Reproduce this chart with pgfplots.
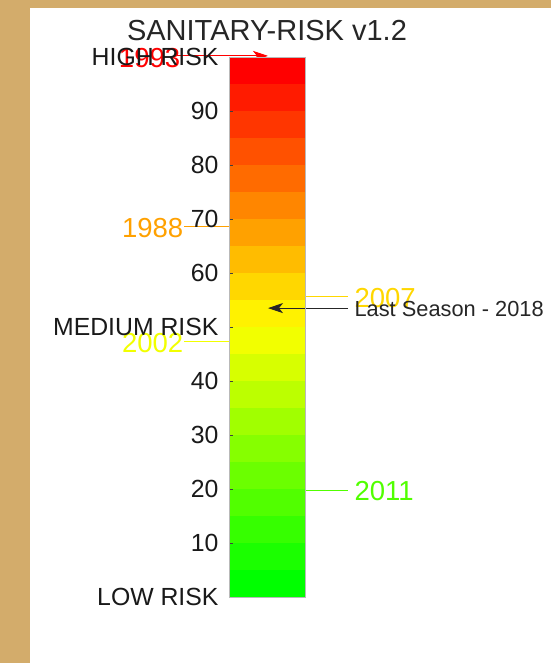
\documentclass[border=0pt]{standalone}
\usepackage{fontspec}
\setmainfont{Liberation Sans}
\usepackage{pgfplots}
\pgfplotsset{compat=1.18}
\usetikzlibrary{arrows.meta}
\definecolor{tanbg}{RGB}{211,172,107}
\definecolor{segA}{RGB}{0,255,0}
\definecolor{segB}{RGB}{27,255,0}
\definecolor{segC}{RGB}{54,255,0}
\definecolor{segD}{RGB}{81,255,0}
\definecolor{segE}{RGB}{107,255,0}
\definecolor{segF}{RGB}{134,255,0}
\definecolor{segG}{RGB}{161,255,0}
\definecolor{segH}{RGB}{188,255,0}
\definecolor{segI}{RGB}{215,255,0}
\definecolor{segJ}{RGB}{242,255,0}
\definecolor{segK}{RGB}{255,242,0}
\definecolor{segL}{RGB}{255,215,0}
\definecolor{segM}{RGB}{255,188,0}
\definecolor{segN}{RGB}{255,161,0}
\definecolor{segO}{RGB}{255,134,0}
\definecolor{segP}{RGB}{255,107,0}
\definecolor{segQ}{RGB}{255,81,0}
\definecolor{segR}{RGB}{255,54,0}
\definecolor{segS}{RGB}{255,27,0}
\definecolor{segT}{RGB}{255,0,0}
\newcommand\tlf{\fontsize{24.8bp}{29bp}\selectfont}
\newcommand\yrf{\fontsize{27.5bp}{32bp}\selectfont}
\newcommand\ttf{\fontsize{29bp}{33bp}\selectfont}
\newcommand\lsf{\fontsize{21.8bp}{26bp}\selectfont}
\begin{document}
\begin{tikzpicture}
\fill[tanbg] (0,0) rectangle (551bp,663bp);
\fill[white] (30bp,0) rectangle (551bp,655bp);
\begin{axis}[
  at={(229bp,66bp)}, anchor=south west,
  scale only axis, width=76bp, height=540bp,
  xmin=0, xmax=1, ymin=0, ymax=100,
  xtick=\empty,
  ytick={0,10,...,100},
  yticklabels={LOW RISK,10,20,30,40,MEDIUM RISK,60,70,80,90,HIGH RISK},
  ytick pos=left, tick align=inside,
  major tick length=4bp,
  tick style={black!75, line width=0.6bp},
  axis line style={gray!55, line width=0.8bp},
  yticklabel style={font=\tlf, text=black!90, xshift=-7bp},
  /pgf/number format/assume math mode=true,
  clip=false,
  axis on top,
]
\addplot[draw=none, fill=segA] coordinates {(0,0) (1,0) (1,5) (0,5)} -- cycle;
\addplot[draw=none, fill=segB] coordinates {(0,5) (1,5) (1,10) (0,10)} -- cycle;
\addplot[draw=none, fill=segC] coordinates {(0,10) (1,10) (1,15) (0,15)} -- cycle;
\addplot[draw=none, fill=segD] coordinates {(0,15) (1,15) (1,20) (0,20)} -- cycle;
\addplot[draw=none, fill=segE] coordinates {(0,20) (1,20) (1,25) (0,25)} -- cycle;
\addplot[draw=none, fill=segF] coordinates {(0,25) (1,25) (1,30) (0,30)} -- cycle;
\addplot[draw=none, fill=segG] coordinates {(0,30) (1,30) (1,35) (0,35)} -- cycle;
\addplot[draw=none, fill=segH] coordinates {(0,35) (1,35) (1,40) (0,40)} -- cycle;
\addplot[draw=none, fill=segI] coordinates {(0,40) (1,40) (1,45) (0,45)} -- cycle;
\addplot[draw=none, fill=segJ] coordinates {(0,45) (1,45) (1,50) (0,50)} -- cycle;
\addplot[draw=none, fill=segK] coordinates {(0,50) (1,50) (1,55) (0,55)} -- cycle;
\addplot[draw=none, fill=segL] coordinates {(0,55) (1,55) (1,60) (0,60)} -- cycle;
\addplot[draw=none, fill=segM] coordinates {(0,60) (1,60) (1,65) (0,65)} -- cycle;
\addplot[draw=none, fill=segN] coordinates {(0,65) (1,65) (1,70) (0,70)} -- cycle;
\addplot[draw=none, fill=segO] coordinates {(0,70) (1,70) (1,75) (0,75)} -- cycle;
\addplot[draw=none, fill=segP] coordinates {(0,75) (1,75) (1,80) (0,80)} -- cycle;
\addplot[draw=none, fill=segQ] coordinates {(0,80) (1,80) (1,85) (0,85)} -- cycle;
\addplot[draw=none, fill=segR] coordinates {(0,85) (1,85) (1,90) (0,90)} -- cycle;
\addplot[draw=none, fill=segS] coordinates {(0,90) (1,90) (1,95) (0,95)} -- cycle;
\addplot[draw=none, fill=segT] coordinates {(0,95) (1,95) (1,100) (0,100)} -- cycle;
% year markers
\addplot[segN, line width=0.9bp] coordinates {(-0.59,68.7) (0,68.7)};
\addplot[segJ, line width=0.9bp] coordinates {(-0.59,47.3) (0,47.3)};
\addplot[segL, line width=0.9bp] coordinates {(1,55.6) (1.566,55.6)};
\addplot[segD, line width=0.9bp] coordinates {(1,19.8) (1.566,19.8)};
\addplot[segT, line width=0.9bp, -{Stealth[length=15bp,width=10bp,inset=4bp]}] coordinates {(-0.7,100.2) (0.513,100.2)};
\addplot[black!85, line width=0.9bp, -{Stealth[length=15bp,width=10bp,inset=4bp]}] coordinates {(1.566,53.5) (0.513,53.5)};
\node[anchor=east, text=segN, font=\yrf, inner sep=0pt] at (axis cs:-0.60,68.4) {1988};
\node[anchor=east, text=segJ, font=\yrf, inner sep=0pt] at (axis cs:-0.60,47.1) {2002};
\node[anchor=east, text=segT, font=\yrf, inner sep=0pt] at (axis cs:-0.64,99.8) {1993};
\node[anchor=west, text=segL, font=\yrf, inner sep=0pt] at (axis cs:1.65,55.4) {2007};
\node[anchor=west, text=segD, font=\yrf, inner sep=0pt] at (axis cs:1.65,19.6) {2011};
\node[anchor=west, text=black!85, font=\lsf, inner sep=0pt] at (axis cs:1.65,53.3) {Last Season - 2018};
\node[anchor=base, font=\ttf, text=black!85, inner sep=0pt, yshift=16bp] at (rel axis cs:0.5,1) {SANITARY-RISK v1.2};
\end{axis}
\pgfresetboundingbox
\useasboundingbox (0,0) rectangle (551bp,663bp);
\end{tikzpicture}
\end{document}
